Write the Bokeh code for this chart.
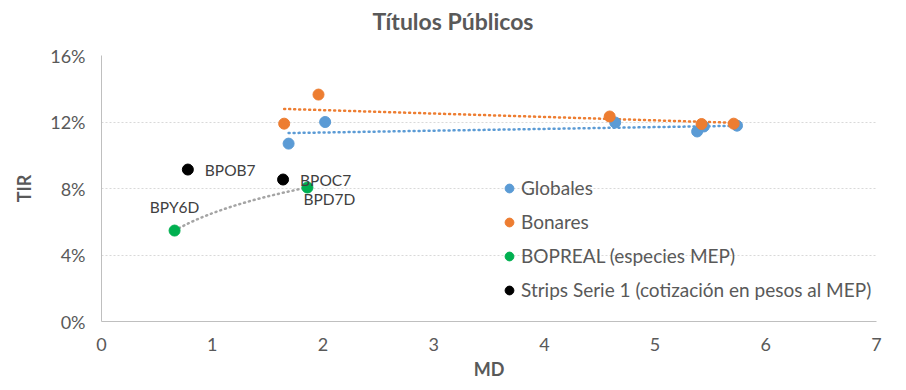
import numpy as np
from bokeh.plotting import figure
from bokeh.layouts import column
from bokeh.models import (ColumnDataSource, Legend, LegendItem, NumeralTickFormatter,
                          FixedTicker, Range1d, LabelSet, Div)
from bokeh.core.properties import value
from bokeh.embed import file_html
from bokeh.resources import INLINE

# ---- data ----
glob_md = [1.69, 2.02, 4.64, 5.38, 5.44, 5.74]
glob_tir = [0.107, 0.120, 0.1197, 0.1143, 0.1173, 0.1178]

bon_md = [1.65, 1.96, 4.59, 5.42, 5.71]
bon_tir = [0.119, 0.1365, 0.1233, 0.1188, 0.1190]

bop_md = [0.66, 1.86]
bop_tir = [0.0547, 0.0806]
bop_names = ["BPY6D", "BPD7D"]

str_md = [0.78, 1.64]
str_tir = [0.0914, 0.0854]
str_names = ["BPOB7", "BPOC7"]

y_ticks = [0, 0.04, 0.08, 0.12, 0.16]
x_ticks = [0, 1, 2, 3, 4, 5, 6, 7]

C_BLUE = "#5b9bd5"
C_ORANGE = "#ed7d31"
C_GREEN = "#00b050"
C_BLACK = "#000000"
TXT = "#595959"
FONT = "Lato"

title = Div(text=('<div style="width:890px;text-align:center;font-family:Lato;'
                  'font-size:23px;font-weight:bold;color:#595959;line-height:28px;'
                  'padding-top:2px;padding-left:6px;">Títulos Públicos</div>'),
            width=890, height=30)

p = figure(frame_width=775, frame_height=266, min_border_left=101, min_border_right=14,
           min_border_top=15, min_border_bottom=60, output_backend="svg",
           toolbar_location=None, x_range=Range1d(0, 7), y_range=Range1d(0, 0.16))
p.outline_line_color = None
p.background_fill_color = "white"
p.border_fill_color = "white"

p.xgrid.visible = False
p.ygrid.grid_line_color = "#d9d9d9"
p.ygrid.grid_line_dash = "2 2"
p.ygrid.grid_line_width = 1

for ax in (p.xaxis[0], p.yaxis[0]):
    ax.axis_line_color = "#bfbfbf"
    ax.major_tick_line_color = None
    ax.minor_tick_line_color = None
    ax.major_label_text_color = TXT
    ax.major_label_text_font = FONT
    ax.major_label_text_font_size = "18px"
    ax.axis_label_text_color = TXT
    ax.axis_label_text_font = FONT
    ax.axis_label_text_font_size = "18px"
    ax.axis_label_text_font_style = "bold"

p.xaxis.ticker = FixedTicker(ticks=x_ticks)
p.yaxis.ticker = FixedTicker(ticks=y_ticks)
p.yaxis.formatter = NumeralTickFormatter(format="0%")
p.xaxis.axis_label = "MD"
p.yaxis.axis_label = "TIR"
p.xaxis.major_label_standoff = 10
p.yaxis.major_label_standoff = 10
p.xaxis.axis_label_standoff = 4
p.yaxis.axis_label_standoff = 12

# ---- trendlines ----
def lin_line(xs, ys, color):
    c = np.polyfit(xs, ys, 1)
    xx = np.array([min(xs), max(xs)])
    p.line(xx, np.polyval(c, xx), line_color=color, line_width=2.5, line_dash="1 4",
           line_cap="round")

lin_line(glob_md, glob_tir, C_BLUE)
lin_line(bon_md, bon_tir, C_ORANGE)

lc = np.polyfit(np.log(bop_md), bop_tir, 1)
xx = np.linspace(min(bop_md), max(bop_md), 40)
p.line(xx, lc[0] * np.log(xx) + lc[1], line_color="#a5a5a5", line_width=2.5,
       line_dash="1 4", line_cap="round")

# ---- points ----
r1 = p.scatter(glob_md, glob_tir, size=11, color=C_BLUE)
r2 = p.scatter(bon_md, bon_tir, size=11, color=C_ORANGE)
src_b = ColumnDataSource(dict(x=bop_md, y=bop_tir, n=bop_names))
src_s = ColumnDataSource(dict(x=str_md, y=str_tir, n=str_names))
r3 = p.scatter("x", "y", source=src_b, size=11, color=C_GREEN)
r4 = p.scatter("x", "y", source=src_s, size=11, color=C_BLACK)

# labels
LBL = dict(text_font=value(FONT), text_font_size=value("15.5px"), text_color="#404040",
           text_baseline="middle")
src_l1 = ColumnDataSource(dict(x=[bop_md[0]], y=[bop_tir[0]], n=[bop_names[0]]))
p.add_layout(LabelSet(x="x", y="y", text="n", source=src_l1, text_align="center",
                      y_offset=24, **LBL))
src_l2 = ColumnDataSource(dict(x=[bop_md[1]], y=[bop_tir[1]], n=[bop_names[1]]))
p.add_layout(LabelSet(x="x", y="y", text="n", source=src_l2, text_align="left",
                      x_offset=-4, y_offset=-11, **LBL))
p.add_layout(LabelSet(x="x", y="y", text="n", source=src_s, text_align="left",
                      x_offset=17, y_offset=0, **LBL))

legend = Legend(items=[LegendItem(label="Globales", renderers=[r1]),
                       LegendItem(label="Bonares", renderers=[r2]),
                       LegendItem(label="BOPREAL (especies MEP)", renderers=[r3]),
                       LegendItem(label="Strips Serie 1 (cotización en pesos al MEP)", renderers=[r4])],
                location=(397, 20), orientation="vertical")
legend.background_fill_alpha = 0
legend.border_line_color = None
legend.label_text_font = FONT
legend.label_text_font_size = "19px"
legend.label_text_color = TXT
legend.glyph_width = 22
legend.glyph_height = 22
legend.label_height = 22
legend.spacing = 11
legend.label_standoff = 1
legend.padding = 0
legend.margin = 0
p.add_layout(legend, "center")

layout = column(title, p, spacing=0)
open("out.html", "w").write(file_html(layout, INLINE))
